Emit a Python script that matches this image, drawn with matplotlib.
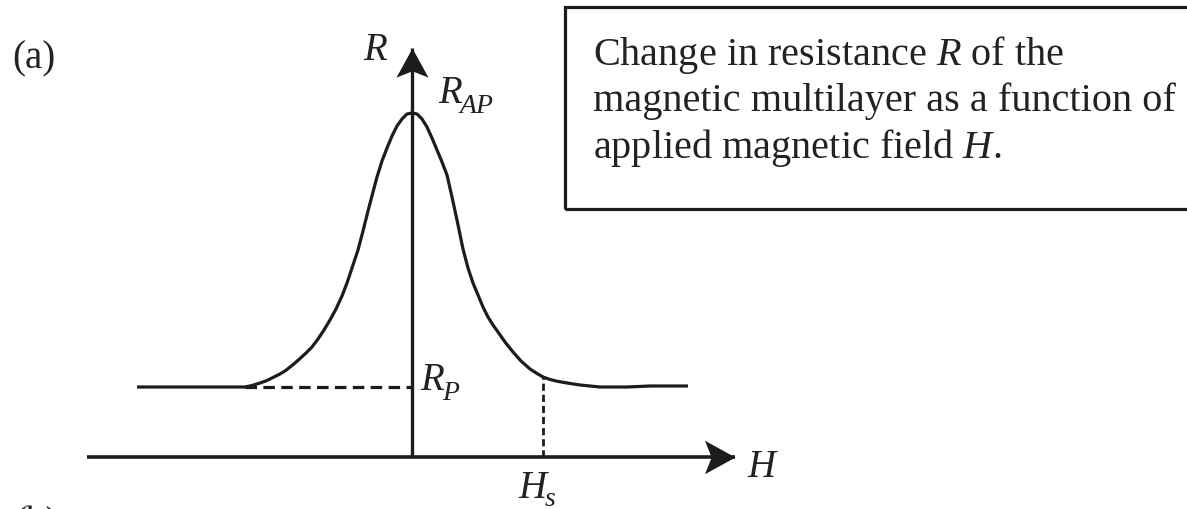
import numpy as np
import matplotlib
matplotlib.use("Agg")
import matplotlib.pyplot as plt
from matplotlib.path import Path
from matplotlib.markers import MarkerStyle
from matplotlib.transforms import Affine2D
from matplotlib.patches import Rectangle

plt.rcParams['font.family'] = ['Liberation Serif', 'DejaVu Serif']
plt.rcParams['mathtext.fontset'] = 'custom'
plt.rcParams['mathtext.rm'] = 'Liberation Serif'
plt.rcParams['mathtext.it'] = 'Liberation Serif:italic'

# magnetoresistance curve R(H), arbitrary units
H = [-2.75, -2.12, -1.67, -1.60, -1.52, -1.45, -1.39, -1.33, -1.27, -1.20,
     -1.13, -1.06, -1.00, -0.94, -0.88, -0.82, -0.76, -0.70, -0.65, -0.60,
     -0.54, -0.49, -0.44, -0.39, -0.35, -0.30, -0.25, -0.20, -0.15, -0.10,
     -0.05, 0.00,
     0.05, 0.10, 0.15, 0.20, 0.25, 0.30, 0.35, 0.40, 0.45, 0.51,
     0.56, 0.61, 0.66, 0.71, 0.76, 0.81, 0.86, 0.93, 1.01, 1.09,
     1.18, 1.25, 1.31, 1.38, 1.45, 1.55, 1.68, 1.78, 1.88, 2.15,
     2.38, 2.76]
R = [0.70, 0.70, 0.70, 0.715, 0.74, 0.765, 0.795, 0.825, 0.86, 0.915,
     0.975, 1.04, 1.10, 1.18, 1.27, 1.37, 1.48, 1.61, 1.74, 1.89,
     2.07, 2.26, 2.46, 2.65, 2.80, 2.96, 3.09, 3.21, 3.31, 3.38,
     3.43, 3.44,
     3.43, 3.38, 3.30, 3.19, 3.07, 2.95, 2.82, 2.60, 2.37, 2.08,
     1.89, 1.74, 1.62, 1.50, 1.40, 1.32, 1.25, 1.15, 1.05, 0.96,
     0.88, 0.835, 0.80, 0.775, 0.758, 0.74, 0.72, 0.71, 0.70, 0.70,
     0.71, 0.71]

R_P = 0.70
R_AP = 3.44
H_s = 1.31
R_at_Hs = 0.80
H_tail = -1.67          # where the curve meets the R_P level on the left

axis_H = [-3.25, 3.23]
axis_R_top = 4.09

caption_lines = ["Change in resistance $R$ of the",
                 "magnetic multilayer as a function of",
                 "applied magnetic field $H$."]

ink = '#1c1c1c'
text_ink = '#222222'

fig = plt.figure(figsize=(11.87, 5.09), dpi=100)
ax = fig.add_axes([0, 0, 1, 1])
ax.set_xlim(-4.12, 7.75)
ax.set_ylim(-0.52, 4.57)
ax.axis('off')

# arrowhead with a notched back, tip at the origin
head = Path([(0, 0), (-1, 0.55), (-0.78, 0), (-1, -0.55), (0, 0)],
            [Path.MOVETO, Path.LINETO, Path.LINETO, Path.LINETO, Path.CLOSEPOLY])
head_right = MarkerStyle(head)
head_up = MarkerStyle(head, transform=Affine2D().rotate_deg(90))

# axes
ax.plot(axis_H, [0, 0], color=ink, lw=2.6, solid_capstyle='butt')
ax.plot([0, 0], [0, axis_R_top], color=ink, lw=2.4, solid_capstyle='butt')
ax.plot(axis_H[1], 0, marker=head_right, ms=44, color=ink, mew=0)
ax.plot(0, axis_R_top, marker=head_up, ms=42, color=ink, mew=0)

# curve and guide lines
ax.plot(H, R, color=ink, lw=2.3, solid_joinstyle='round', solid_capstyle='butt')
ax.plot([H_tail, 0], [R_P, R_P], color=ink, lw=2.3, linestyle=(0, (3.6, 2.0)))
ax.plot([H_s, H_s], [0, R_at_Hs], color=ink, lw=2.0, linestyle=(0, (2.6, 1.4)))


def symbol(x, y, main, sub=None, sub_dx=0.22, sub_dy=0.10):
    """Italic symbol with an optional lowered subscript."""
    ax.text(x, y, main, ha='left', va='baseline', fontstyle='italic',
            color=text_ink, fontsize=28)
    if sub:
        ax.text(x + sub_dx, y - sub_dy, sub, ha='left', va='baseline',
                fontstyle='italic', color=text_ink, fontsize=20)


# labels
ax.text(-3.78, 3.98, '(a)', ha='center', va='center', color=text_ink, fontsize=28)
ax.text(-3.99, -0.49, '(b)', ha='left', va='top', color=text_ink, fontsize=28)
symbol(-0.49, 3.97, 'R')
symbol(0.26, 3.54, 'R', 'AP')
symbol(0.08, 0.67, 'R', 'P')
symbol(1.06, -0.41, 'H', 's', sub_dx=0.27, sub_dy=0.08)
symbol(3.35, -0.20, 'H')

# caption box, open past the right edge
ax.add_patch(Rectangle((1.53, 2.48), 6.5, 2.02, fill=False, ec=ink, lw=2.3))
for i, line in enumerate(caption_lines):
    ax.text(1.81, 3.92 - 0.465 * i, line, ha='left', va='baseline',
            color=text_ink, fontsize=29)

fig.savefig('out.png', dpi=100)
